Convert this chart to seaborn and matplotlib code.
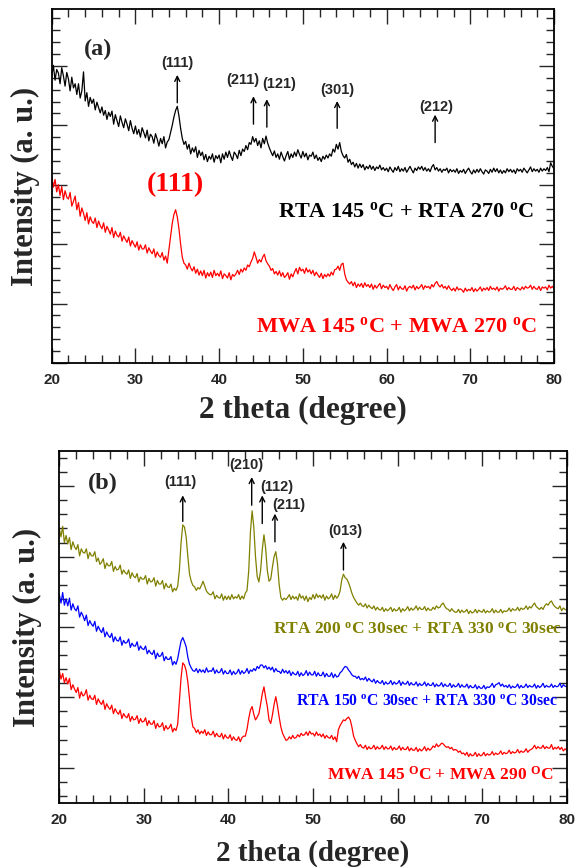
import numpy as np
import pandas as pd
import matplotlib
matplotlib.use("Agg")
import matplotlib.pyplot as plt
from matplotlib.ticker import MultipleLocator, FixedLocator, NullFormatter
import seaborn as sns

# ---------------- data (2 theta grid, 0.2 deg step) ----------------
two_theta = np.linspace(20, 80, 301)

a_rta = [482, 501, 476, 494, 488,  470, 497, 483, 466, 489,  478, 458, 481, 463, 470,
         452, 470, 446, 458, 490,  441, 455, 432, 447, 437,  444, 426, 439, 430, 421,
         431, 417, 425, 410, 422,  415, 424, 402, 418, 408,  398, 416, 405, 396, 411,
         402, 391, 408, 395, 386,  399, 385, 393, 380, 396,  388, 379, 392, 374, 385,
         381, 370, 386, 377, 365,  378, 369, 381, 362, 372,  376, 388, 400, 414, 425,
         432, 416, 395, 378, 368,  373, 360, 368, 352, 362,  355, 364, 346, 358, 349,
         355, 342, 351, 339, 348,  343, 352, 338, 349, 344,  350, 337, 352, 343, 355,
         346, 357, 348, 341, 355,  351, 344, 358, 349, 360,  356, 366, 359, 371, 368,
         381, 372, 378, 366, 374,  362, 378, 369, 382, 370,  362, 355, 349, 357, 346,
         352, 343, 355, 347, 340,  349, 356, 343, 352, 346,  355, 348, 359, 351, 345,
         356, 347, 353, 342, 350,  348, 355, 344, 350, 341,  346, 339, 348, 343, 350,
         345, 352, 348, 360, 355,  368, 360, 371, 356, 349,  345, 351, 338, 343, 334,
         338, 330, 336, 328, 335,  329, 334, 325, 331, 327,  333, 326, 331, 324, 330,
         327, 333, 325, 329, 324,  328, 322, 330, 325, 321,  329, 324, 331, 322, 327,
         323, 329, 321, 326, 331,  325, 320, 328, 324, 330,  326, 331, 324, 329, 323,
         327, 322, 330, 334, 325,  329, 323, 327, 321, 326,  324, 328, 320, 326, 322,
         325, 321, 327, 319, 324,  321, 326, 319, 324, 328,  322, 318, 325, 320, 326,
         321, 327, 322, 318, 325,  323, 319, 326, 321, 328,  322, 327, 320, 325, 319,
         324, 320, 327, 322, 326,  321, 325, 319, 327, 323,  326, 321, 328, 324, 320,
         325, 330, 322, 327, 323,  326, 321, 328, 323, 327,  324, 329, 322, 337, 331,
         327]

a_mwa = [314, 296, 309, 288, 300,  282, 297, 275, 290, 279,  276, 287, 264, 272, 281,
         258, 270, 247, 261, 252,  240, 253, 234, 246, 238,  235, 244, 228, 239, 231,
         226, 236, 220, 230, 224,  217, 228, 211, 222, 215,  212, 220, 205, 214, 208,
         203, 212, 197, 206, 200,  195, 204, 190, 199, 192,  192, 199, 185, 194, 188,
         184, 192, 178, 187, 181,  178, 186, 173, 180, 168,  190, 212, 235, 250, 258,
         246, 226, 200, 178, 168,  165, 158, 168, 160, 155,  162, 151, 158, 148, 155,
         147, 156, 143, 152, 146,  153, 144, 156, 147, 151,  146, 155, 142, 150, 147,
         143, 152, 140, 149, 146,  150, 156, 149, 158, 153,  160, 156, 165, 162, 170,
         176, 187, 178, 168, 174,  170, 178, 183, 172, 167,  163, 156, 159, 150, 154,
         148, 155, 146, 152, 144,  147, 152, 141, 150, 145,  153, 159, 150, 161, 155,
         158, 151, 160, 153, 157,  150, 156, 147, 153, 148,  144, 151, 142, 149, 145,
         150, 146, 153, 148, 157,  158, 163, 156, 166, 168,  150, 140, 136, 133, 137,
         130, 136, 127, 133, 129,  134, 127, 135, 129, 132,  127, 133, 124, 131, 126,
         130, 134, 125, 131, 127,  129, 124, 132, 126, 122,  128, 132, 123, 129, 125,
         124, 130, 121, 127, 129,  126, 131, 123, 129, 125,  128, 132, 124, 130, 127,
         129, 125, 132, 128, 134,  137, 131, 128, 132, 126,  129, 124, 130, 125, 122,
         126, 121, 128, 123, 125,  123, 119, 126, 121, 124,  122, 127, 120, 125, 121,
         124, 128, 121, 126, 123,  127, 122, 129, 124, 126,  123, 128, 121, 126, 124,
         126, 130, 123, 127, 124,  124, 129, 122, 127, 125,  123, 128, 124, 129, 126,
         127, 131, 124, 129, 125,  124, 129, 122, 128, 126,  128, 123, 131, 126, 129,
         125]

b_rta200 = [390, 378, 393, 370, 380,  368, 377, 360, 371, 364,  360, 367, 351, 361, 356,
            355, 361, 347, 356, 351,  351, 357, 343, 348, 339,  342, 347, 333, 341, 337,
            337, 343, 329, 336, 331,  332, 338, 325, 331, 327,  325, 331, 319, 327, 322,
            320, 326, 314, 321, 318,  318, 323, 311, 319, 314,  315, 320, 308, 316, 311,
            311, 316, 304, 312, 307,  306, 311, 300, 305, 302,  308, 331, 370, 395, 392,
            378, 350, 325, 315, 309,  307, 302, 306, 304, 309,  315, 308, 301, 298, 296,
            296, 300, 290, 295, 292,  291, 297, 288, 294, 289,  294, 289, 296, 290, 293,
            291, 296, 289, 294, 290,  298, 302, 330, 385, 415,  392, 350, 322, 314, 330,
            360, 381, 362, 330, 315,  318, 335, 350, 357, 340,  310, 292, 288, 291, 289,
            292, 296, 289, 294, 290,  293, 288, 297, 291, 294,  288, 294, 286, 292, 289,
            296, 290, 297, 292, 295,  291, 296, 288, 294, 290,  292, 297, 289, 295, 291,
            294, 301, 317, 325, 320,  318, 313, 306, 298, 292,  288, 284, 281, 284, 280,
            279, 283, 277, 281, 278,  276, 280, 274, 278, 275,  274, 278, 272, 276, 273,
            275, 278, 272, 276, 273,  274, 278, 271, 276, 273,  275, 279, 273, 277, 274,
            276, 280, 274, 278, 275,  275, 279, 273, 277, 274,  274, 278, 275, 280, 277,
            278, 282, 284, 279, 276,  275, 272, 276, 273, 271,  271, 275, 270, 274, 271,
            272, 275, 269, 273, 270,  271, 275, 270, 274, 272,  271, 275, 270, 273, 271,
            272, 276, 270, 274, 271,  271, 275, 270, 273, 272,  273, 277, 272, 276, 274,
            274, 278, 273, 277, 275,  276, 280, 275, 279, 277,  281, 284, 279, 277, 275,
            278, 275, 280, 283, 281,  285, 287, 282, 279, 277,  276, 280, 273, 277, 275,
            274]

b_rta150 = [296, 284, 299, 281, 290,  280, 291, 274, 283, 276,  273, 280, 264, 271, 266,
            259, 267, 252, 259, 254,  251, 258, 244, 251, 246,  242, 249, 236, 243, 238,
            235, 241, 229, 236, 231,  230, 236, 224, 231, 227,  228, 233, 221, 227, 223,
            223, 229, 217, 223, 219,  218, 223, 212, 217, 213,  211, 217, 205, 213, 208,
            209, 214, 202, 208, 204,  204, 208, 196, 201, 197,  205, 218, 230, 235, 229,
            222, 207, 197, 192, 188,  187, 191, 185, 190, 186,  189, 185, 192, 186, 188,
            187, 192, 184, 189, 185,  186, 191, 183, 188, 184,  184, 189, 182, 187, 183,
            185, 190, 183, 188, 184,  186, 191, 184, 189, 187,  191, 188, 194, 191, 196,
            196, 192, 195, 190, 193,  189, 193, 186, 191, 187,  187, 184, 190, 185, 188,
            184, 188, 181, 186, 183,  182, 187, 180, 185, 181,  183, 188, 181, 186, 182,
            182, 187, 180, 185, 181,  181, 186, 179, 184, 180,  180, 185, 178, 183, 179,
            180, 185, 187, 191, 194,  193, 189, 186, 182, 180,  180, 177, 180, 175, 177,
            175, 179, 173, 177, 174,  172, 176, 170, 174, 171,  170, 174, 168, 172, 169,
            170, 174, 168, 172, 169,  170, 174, 167, 172, 169,  169, 173, 167, 171, 168,
            168, 172, 166, 170, 167,  168, 172, 166, 170, 167,  167, 171, 165, 169, 166,
            167, 171, 165, 169, 166,  166, 170, 164, 168, 165,  166, 170, 164, 168, 165,
            165, 169, 163, 167, 164,  164, 168, 162, 166, 163,  163, 167, 162, 165, 164,
            166, 170, 164, 168, 169,  171, 166, 169, 165, 167,  164, 168, 163, 166, 164,
            165, 169, 163, 167, 164,  165, 169, 164, 167, 165,  165, 169, 163, 167, 164,
            166, 170, 164, 167, 165,  165, 169, 164, 167, 165,  166, 170, 164, 168, 166,
            165]

b_mwa = [188, 176, 184, 171, 178,  169, 177, 161, 168, 162,  157, 164, 149, 158, 152,
         154, 161, 146, 153, 148,  147, 153, 140, 148, 143,  140, 146, 133, 141, 136,
         133, 139, 127, 134, 129,  126, 132, 120, 127, 123,  121, 127, 116, 123, 118,
         119, 124, 113, 120, 115,  116, 121, 110, 117, 112,  112, 117, 106, 113, 108,
         109, 114, 103, 110, 105,  107, 112, 101, 106, 103,  112, 145, 178, 199, 196,
         188, 172, 148, 122, 108,  106, 100, 104, 98, 102,  99, 104, 96, 101, 97,
         97, 102, 94, 99, 95,  94, 99, 91, 97, 93,  92, 97, 89, 94, 90,
         89, 94, 87, 93, 95,  95, 105, 120, 132, 137,  126, 118, 122, 127, 140,
         155, 165, 150, 137, 118,  113, 125, 140, 151, 138,  122, 108, 99, 94, 89,
         90, 94, 91, 96, 92,  93, 97, 94, 99, 96,  97, 101, 96, 102, 98,
         99, 95, 101, 96, 98,  94, 98, 92, 96, 93,  92, 96, 90, 94, 87,
         104, 110, 114, 118, 117,  120, 122, 118, 108, 95,  89, 84, 80, 83, 79,
         78, 82, 76, 80, 77,  78, 82, 76, 80, 77,  78, 82, 76, 80, 77,
         77, 81, 75, 79, 76,  77, 81, 75, 79, 76,  76, 80, 74, 78, 75,
         75, 79, 73, 77, 74,  76, 80, 74, 78, 75,  77, 81, 79, 84, 80,
         82, 85, 84, 81, 79,  80, 77, 79, 75, 76,  75, 72, 74, 70, 71,
         68, 72, 66, 70, 67,  68, 72, 66, 70, 67,  68, 72, 67, 70, 68,
         69, 73, 68, 71, 69,  70, 74, 69, 72, 70,  71, 75, 70, 73, 71,
         72, 76, 71, 74, 72,  73, 77, 72, 75, 76,  78, 82, 77, 80, 78,
         78, 82, 77, 80, 78,  78, 83, 76, 79, 77,  80, 76, 79, 74, 77,
         75]

# peak labels: (label, text x, text y, arrow x, arrow bottom, arrow top)
peaks_a = [("(111)", 35.0, 505, 35.0, 438, 485),
           ("(211)", 42.8, 476, 44.1, 402, 449),
           ("(121)", 47.2, 470, 45.7, 397, 444),
           ("(301)", 54.1, 460, 54.1, 395, 441),
           ("(212)", 65.9, 431, 65.8, 371, 418)]
peaks_b = [("(111)", 34.3, 456, 34.6, 400, 437),
           ("(210)", 42.1, 480, 42.75, 423, 463),
           ("(112)", 45.7, 449, 44.0, 397, 437),
           ("(211)", 47.1, 423, 45.5, 371, 411),
           ("(013)", 53.8, 386, 53.6, 331, 371)]

x_ticks = [20, 30, 40, 50, 60, 70, 80]

# ---------------- style ----------------
sns.set_style("ticks")
plt.rcParams["font.family"] = ["Liberation Serif", "DejaVu Serif"]
plt.rcParams["mathtext.fontset"] = "custom"
plt.rcParams["mathtext.rm"] = "Liberation Serif:bold"
plt.rcParams["mathtext.bf"] = "Liberation Serif:bold"
plt.rcParams["mathtext.it"] = "Liberation Serif:bold"

W, H = 576, 867
fig = plt.figure(figsize=(W / 100, H / 100), dpi=100)
ax1 = fig.add_axes([51.7 / W, 1 - 363 / H, (554 - 51.7) / W, (363 - 9.5) / H])
ax2 = fig.add_axes([59.3 / W, 1 - 803 / H, (566.7 - 59.3) / W, (803 - 451) / H])

df_a = pd.DataFrame({"x": two_theta, "rta": a_rta, "mwa": a_mwa})
df_b = pd.DataFrame({"x": two_theta, "rta200": b_rta200, "rta150": b_rta150, "mwa": b_mwa})

sns.lineplot(data=df_a, x="x", y="rta", ax=ax1, color="black", lw=0.9, estimator=None)
sns.lineplot(data=df_a, x="x", y="mwa", ax=ax1, color="#ff0000", lw=0.9, estimator=None)
sns.lineplot(data=df_b, x="x", y="rta200", ax=ax2, color="#808000", lw=0.9, estimator=None)
sns.lineplot(data=df_b, x="x", y="rta150", ax=ax2, color="#0000ff", lw=0.9, estimator=None)
sns.lineplot(data=df_b, x="x", y="mwa", ax=ax2, color="#ff0000", lw=0.9, estimator=None)

ax1.set_ylim(0, 595)
ax2.set_ylim(0, 500)
ax1.yaxis.set_major_locator(MultipleLocator(100))
ax1.yaxis.set_minor_locator(MultipleLocator(20))
ax2.yaxis.set_major_locator(FixedLocator([50, 150, 250, 350, 450]))
ax2.yaxis.set_minor_locator(FixedLocator(list(range(10, 500, 20))))

for ax in (ax1, ax2):
    ax.set_xlim(20, 80)
    ax.set_xticks(x_ticks)
    ax.xaxis.set_minor_locator(MultipleLocator(2))
    ax.yaxis.set_major_formatter(NullFormatter())
    ax.yaxis.set_minor_formatter(NullFormatter())
    ax.tick_params(which="major", direction="in", length=10.5, width=1.0,
                   top=True, right=True, pad=7)
    ax.tick_params(which="minor", direction="in", length=5.5, width=1.0,
                   top=True, right=True)
    for s in ax.spines.values():
        s.set_linewidth(1.3)
        s.set_color("black")
    for lab in ax.get_xticklabels():
        lab.set_fontfamily("Liberation Sans")
        lab.set_fontweight("bold")
        lab.set_fontsize(11)
    ax.set_ylabel("")

ax1.set_xlabel("2 theta (degree)", fontsize=22.5, fontweight="bold")
ax2.set_xlabel("2 theta (degree)", fontsize=21, fontweight="bold")
ax1.xaxis.set_label_coords(0.5, (363 - 410) / 353.5)
ax2.xaxis.set_label_coords(0.5, (803 - 853) / 352)
ax1.xaxis.label.set_va("center")
ax2.xaxis.label.set_va("center")

fig.text(25 / W, 1 - 186 / H, "Intensity (a. u.)", rotation=90, ha="center", va="center",
         fontsize=22, fontweight="bold")
fig.text(27 / W, 1 - 627 / H, "Intensity (a. u.)", rotation=90, ha="center", va="center",
         fontsize=22, fontweight="bold")

# panel letters
ax1.text(25.5, 527, "(a)", fontsize=17.5, fontweight="bold", ha="center", va="center")
ax2.text(25.2, 454, "(b)", fontsize=17.5, fontweight="bold", ha="center", va="center")


def peak_marks(ax, peaks):
    for lab, tx, ty, axx, yb, yt in peaks:
        ax.text(tx, ty, lab, fontsize=10.5, fontweight="bold", family="Liberation Sans",
                ha="center", va="center")
        ax.annotate("", xy=(axx, yt), xytext=(axx, yb),
                    arrowprops=dict(arrowstyle="->", lw=1.0, color="black",
                                    mutation_scale=9, shrinkA=0, shrinkB=0))


peak_marks(ax1, peaks_a)
peak_marks(ax2, peaks_b)

ax1.text(34.8, 300, "(111)", fontsize=20, fontweight="bold", color="#ff0000",
         ha="center", va="center")
ax1.text(77.6, 255, r"RTA 145 $^{\rm o}$C + RTA 270 $^{\rm o}$C", fontsize=16,
         fontweight="bold", color="black", ha="right", va="center")
ax1.text(78.0, 61, r"MWA 145 $^{\rm o}$C + MWA 270 $^{\rm o}$C", fontsize=16,
         fontweight="bold", color="#ff0000", ha="right", va="center")

ax2.text(79.5, 246, r"RTA 200 $^{\rm o}$C 30sec + RTA 330 $^{\rm o}$C 30sec", fontsize=12.5,
         fontweight="bold", color="#808000", ha="right", va="center")
ax2.text(79.0, 144, r"RTA 150 $^{\rm o}$C 30sec + RTA 330 $^{\rm o}$C 30sec", fontsize=11.3,
         fontweight="bold", color="#0000ff", ha="right", va="center")
ax2.text(78.4, 40, r"MWA 145 $^{\rm O}$C + MWA 290 $^{\rm O}$C", fontsize=12.5,
         fontweight="bold", color="#ff0000", ha="right", va="center")

fig.savefig("out.png", dpi=100)
